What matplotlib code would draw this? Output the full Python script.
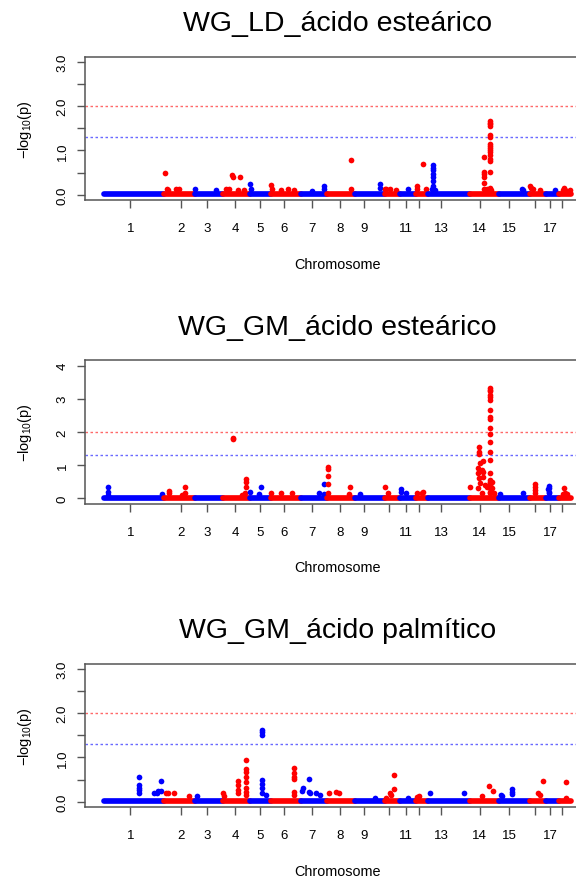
import numpy as np
import matplotlib
matplotlib.use("Agg")
import matplotlib.pyplot as plt

plt.rcParams["font.family"] = ["Liberation Sans", "DejaVu Sans"]
plt.rcParams["mathtext.fontset"] = "custom"
plt.rcParams["mathtext.rm"] = "Liberation Sans"
plt.rcParams["mathtext.it"] = "Liberation Sans:italic"

# chromosome sizes (Mb) and tick positions (median SNP, Mb within chromosome)
chrom_len = [315.32, 162.57, 144.79, 143.47, 111.51, 157.77, 134.76, 148.49, 153.67,
             79.10, 87.69, 63.59, 218.64, 153.85, 157.68, 86.90, 69.70, 61.22]
chrom_tick = [139, 87, 61, 67, 51, 66, 54, 68, 48, 21, 31, 14, 66, 51, 51, 30, 23, 14]
chrom_labels = ["1", "2", "3", "4", "5", "6", "7", "8", "9", "", "11", "", "13",
                "14", "15", "", "17", ""]

# SNPs standing above the near-zero band: chromosome, position (Mb), -log10(p)
# WG_LD_ácido esteárico
ld_ste_chr = [2, 2, 2, 2, 2, 2,
              3, 3,
              4, 4, 4, 4, 4, 4, 4,
              5, 5,
              6, 6, 6, 6, 6,
              7, 7, 7,
              8, 8,
              9, 9,
              10, 10, 10, 10,
              11,
              12, 12, 12, 12,
              13, 13, 13, 13, 13, 13, 13, 13, 13, 13,
              14, 14, 14, 14, 14, 14,
              14, 14, 14, 14, 14, 14, 14, 14, 14, 14, 14, 14, 14, 14, 14, 14,
              14, 14,
              15, 15,
              16, 16, 16, 16,
              17,
              18, 18, 18, 18]
ld_ste_pos = [2.6, 16, 22, 60, 66, 78,
              1, 108,
              20, 35, 51, 52, 92, 80, 110,
              1, 4,
              1.3, 3, 51, 86, 121,
              54, 121, 118,
              128, 127,
              129, 128,
              1, 10, 28, 60,
              42,
              1, 6, 33, 50,
              26, 26, 26, 26, 26, 26, 26, 26, 20, 32,
              73, 73, 73, 73, 73, 73,
              102, 102, 102, 102, 102, 102, 102, 102, 102, 102, 102, 102, 102, 102, 102, 102,
              90, 110,
              118, 125,
              2, 8, 20, 57,
              48,
              17, 23, 30, 55]
ld_ste_val = [0.48, 0.13, 0.10, 0.12, 0.10, 0.13,
              0.13, 0.11,
              0.12, 0.12, 0.44, 0.41, 0.39, 0.10, 0.10,
              0.24, 0.12,
              0.21, 0.12, 0.10, 0.12, 0.10,
              0.09, 0.20, 0.12,
              0.79, 0.13,
              0.25, 0.15,
              0.13, 0.12, 0.13, 0.10,
              0.13,
              0.20, 0.12, 0.69, 0.12,
              0.67, 0.61, 0.55, 0.46, 0.39, 0.30, 0.20, 0.12, 0.12, 0.10,
              0.86, 0.52, 0.46, 0.40, 0.27, 0.12,
              1.67, 1.63, 1.59, 1.55, 1.36, 1.31, 1.15, 1.10, 1.06, 1.02, 0.96, 0.89, 0.80, 0.76, 0.52, 0.15,
              0.12, 0.10,
              0.13, 0.10,
              0.20, 0.15, 0.12, 0.10,
              0.11,
              0.11, 0.15, 0.10, 0.10]

# WG_GM_ácido esteárico
gm_ste_chr = [1, 1, 1, 1,
              2, 2, 2, 2, 2,
              4, 4, 4, 4, 4, 4, 4,
              5, 5, 5,
              6, 6, 6,
              7, 7, 7,
              8, 8, 8, 8, 8, 8, 8,
              9,
              10, 10,
              11, 11, 11,
              12, 12, 12,
              14,
              14, 14, 14, 14, 14, 14, 14, 14, 14, 14, 14, 14,
              14, 14, 14, 14, 14, 14, 14, 14, 14, 14, 14,
              14, 14, 14, 14, 14, 14, 14, 14, 14, 14,
              14, 14, 14, 14, 14, 14, 14, 14, 14,
              15, 15,
              16, 16, 16, 16,
              17, 17, 17, 17, 17,
              18, 18, 18, 18]
gm_ste_pos = [21, 21, 19, 302,
              25, 26, 93, 109, 108,
              54.7, 55.5, 116, 121, 121, 120, 100,
              1, 46, 57,
              1, 51, 107,
              91, 121, 120,
              4.5, 4.5, 4.5, 4.5, 4.5, 119, 118,
              23,
              1, 19,
              5, 5, 33,
              1, 37, 30,
              1,
              102, 102, 102, 102, 102, 102, 102, 102, 102, 102, 102, 102,
              102, 102, 102, 102, 102, 102, 102, 102, 102, 102, 102,
              47, 47, 46, 67, 53, 40, 63, 40, 67, 46,
              70, 53, 79, 42, 88, 63, 114, 114, 123,
              4, 123,
              30, 30, 30, 30,
              14, 14, 14, 14, 12,
              21, 26, 30, 39]
gm_ste_val = [0.33, 0.20, 0.10, 0.13,
              0.23, 0.15, 0.10, 0.33, 0.15,
              1.82, 1.78, 0.15, 0.57, 0.50, 0.33, 0.10,
              0.20, 0.13, 0.35,
              0.15, 0.15, 0.15,
              0.15, 0.44, 0.12,
              0.93, 0.88, 0.68, 0.42, 0.15, 0.35, 0.12,
              0.12,
              0.35, 0.15,
              0.28, 0.20, 0.17,
              0.15, 0.18, 0.15,
              0.35,
              3.32, 3.27, 3.22, 3.12, 3.05, 2.97, 2.65, 2.45, 2.40, 2.13, 1.95, 1.70,
              1.40, 1.15, 0.75, 0.55, 0.50, 0.45, 0.40, 0.35, 0.30, 0.20, 0.15,
              1.55, 1.40, 1.33, 1.13, 1.05, 0.90, 0.85, 0.75, 0.80, 0.60,
              0.65, 0.45, 0.40, 0.30, 0.35, 0.15, 0.50, 0.30, 0.15,
              0.12, 0.15,
              0.42, 0.33, 0.25, 0.15,
              0.37, 0.30, 0.20, 0.15, 0.28,
              0.12, 0.32, 0.15, 0.12]

# WG_GM_ácido palmítico
gm_pal_chr = [1, 1, 1, 1, 1, 1, 1, 1, 1, 1,
              2, 2, 2, 2,
              3,
              4, 4, 4, 4, 4, 4,
              4, 4, 4, 4, 4, 4, 4, 4,
              5, 5, 5, 5, 5, 5, 5, 5,
              6, 6, 6, 6, 6, 6,
              7, 7, 7, 7, 7, 7, 7,
              8, 8, 8,
              9,
              10, 10, 10, 10, 10,
              11,
              12, 12,
              13, 13,
              14, 14, 14,
              15, 15, 15, 15, 15,
              16, 16, 16,
              18, 18]
gm_pal_pos = [184, 184, 184, 184, 184, 262, 279, 284, 298, 300,
              11, 21, 51, 130,
              12,
              1, 5, 83, 83, 83, 83,
              125, 125, 125, 125, 125, 125, 125, 125,
              62, 62, 62, 62, 62, 62, 62, 83,
              121, 121, 121, 121, 121, 121,
              3, 8, 40, 42, 47, 77, 98,
              11, 49, 62,
              102,
              7, 31, 35, 49, 50,
              42,
              1, 16,
              8, 184,
              61, 96.5, 118,
              7, 12, 67, 67, 67,
              43, 57, 69,
              35, 34]
gm_pal_val = [0.55, 0.38, 0.32, 0.26, 0.19, 0.19, 0.19, 0.24, 0.24, 0.47,
              0.19, 0.19, 0.19, 0.13,
              0.13,
              0.19, 0.12, 0.47, 0.38, 0.26, 0.19,
              0.94, 0.75, 0.68, 0.56, 0.45, 0.30, 0.22, 0.15,
              1.63, 1.58, 1.50, 0.49, 0.40, 0.30, 0.20, 0.15,
              0.77, 0.64, 0.56, 0.51, 0.22, 0.15,
              0.24, 0.30, 0.22, 0.51, 0.19, 0.19, 0.15,
              0.19, 0.21, 0.19,
              0.09,
              0.09, 0.19, 0.15, 0.28, 0.60,
              0.08,
              0.11, 0.13,
              0.20, 0.20,
              0.13, 0.36, 0.25,
              0.16, 0.13, 0.28, 0.23, 0.17,
              0.19, 0.15, 0.47,
              0.45, 0.08]

titles = ["WG_LD_ácido esteárico", "WG_GM_ácido esteárico", "WG_GM_ácido palmítico"]
suggestive = -np.log10(0.05)
significant = -np.log10(0.01)

W, H = 576, 878
fig = plt.figure(figsize=(W / 100, H / 100), dpi=100)

offsets = np.concatenate([[0], np.cumsum(chrom_len)[:-1]])
total = float(np.sum(chrom_len))
tick_x = offsets + np.array(chrom_tick)

ax_left, ax_w, ax_h = 85.3, 504.4, 143.3
panel_step = 303.5
spine_col = "#555555"

panels = [
    (ld_ste_chr, ld_ste_pos, ld_ste_val, 3),
    (gm_ste_chr, gm_ste_pos, gm_ste_val, 4),
    (gm_pal_chr, gm_pal_pos, gm_pal_val, 3),
]

for k, (chrs, pos, vals, ymax) in enumerate(panels):
    top = 57.7 + k * panel_step
    ax = fig.add_axes([ax_left / W, 1 - (top + ax_h) / H, ax_w / W, ax_h / H])
    chrs = np.array(chrs)
    x = offsets[chrs - 1] + np.array(pos)
    vals = np.array(vals)

    for i, L in enumerate(chrom_len):
        col = "#0000ff" if i % 2 == 0 else "#ff0000"
        ax.plot([offsets[i], offsets[i] + L], [0.01, 0.01], color=col, lw=4.1,
                solid_capstyle="round", zorder=2 + i)
        m = chrs == i + 1
        ax.plot(x[m], vals[m], "o", color=col, ms=4.1, mew=0, zorder=2 + i)

    ax.axhline(significant, color="#ff6a6a", lw=1.0, ls=(0, (1.8, 1.8)), zorder=1)
    ax.axhline(suggestive, color="#6a6aff", lw=1.0, ls=(0, (1.8, 1.8)), zorder=1)

    ax.set_xlim(-0.04 * total, 1.04 * total)
    ax.set_ylim(-0.04 * ymax, 1.04 * ymax)
    ax.set_xticks(tick_x)
    ax.set_xticklabels(chrom_labels, fontsize=9.5)
    if ymax == 3:
        ax.set_yticks([0, 1, 2, 3])
        ax.set_yticklabels(["0.0", "1.0", "2.0", "3.0"], rotation=90, va="center",
                           fontsize=9.5)
        ax.set_yticks([0.5, 1.5, 2.5], minor=True)
    else:
        ax.set_yticks([0, 1, 2, 3, 4])
        ax.set_yticklabels(["0", "1", "2", "3", "4"], rotation=90, va="center",
                           fontsize=9.5)
    ax.tick_params(axis="both", which="both", direction="out", length=6, width=1,
                   color=spine_col)
    ax.tick_params(axis="x", pad=10)
    ax.tick_params(axis="y", pad=6)
    for s in ax.spines.values():
        s.set_color(spine_col)
        s.set_linewidth(1.1)

    cx = (ax_left + ax_w / 2) / W
    fig.text(cx, 1 - (31.4 + k * panel_step) / H, titles[k], ha="center",
             va="baseline", fontsize=20.5)
    fig.text(cx, 1 - (269 + k * panel_step) / H, "Chromosome", ha="center",
             va="baseline", fontsize=10.4)
    fig.text(25 / W, 1 - (top + ax_h / 2) / H, r"$-\mathrm{log}_{10}(\mathrm{p})$",
             ha="center", va="center", rotation=90, fontsize=10.5)

fig.savefig("out.png", dpi=100)
